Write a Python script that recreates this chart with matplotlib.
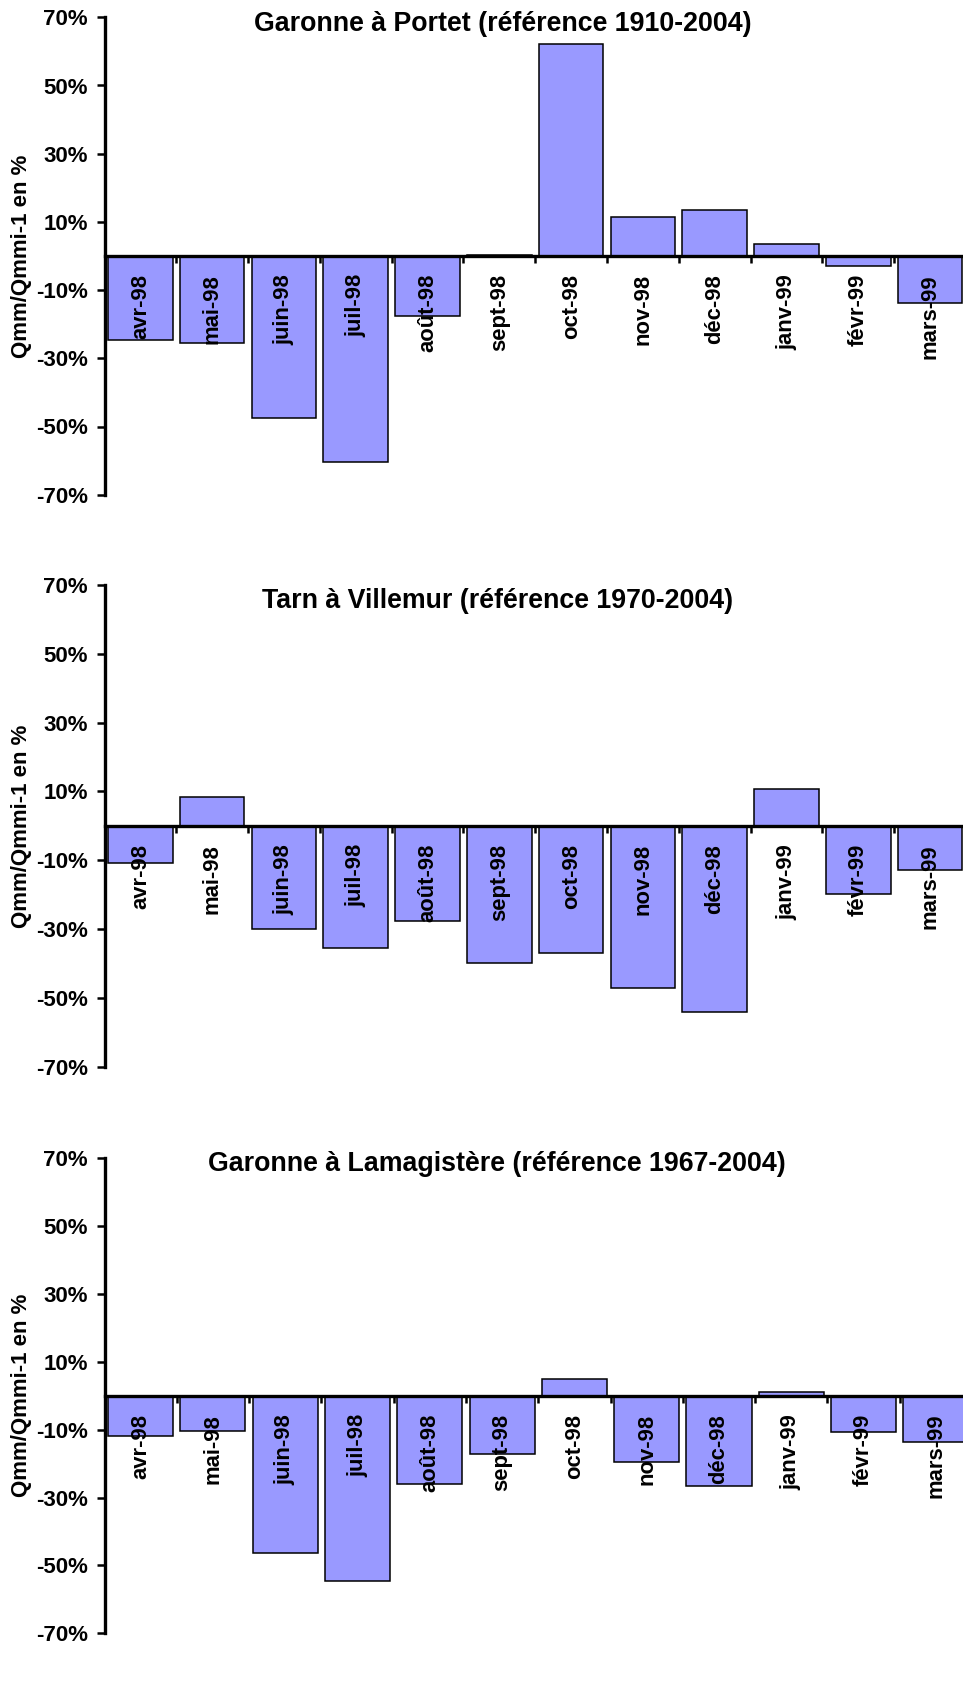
import matplotlib
matplotlib.use('Agg')
import matplotlib.pyplot as plt
from matplotlib.ticker import FixedLocator

plt.rcParams['font.family'] = ['Liberation Sans', 'DejaVu Sans']
plt.rcParams['font.weight'] = 'bold'

# monthly ratio Qmm/Qmmi-1 (%) for hydrological year 1998-99
months = ['avr-98', 'mai-98', 'juin-98', 'juil-98', 'août-98', 'sept-98',
          'oct-98', 'nov-98', 'déc-98', 'janv-99', 'févr-99', 'mars-99']
portet = [-24.5, -25.4, -47.6, -60.5, -17.5, 0.4, 62.3, 11.4, 13.5, 3.6, -2.8, -13.7]
villemur = [-10.9, 8.3, -30.0, -35.5, -27.6, -39.8, -36.9, -47.1, -54.1, 10.7, -19.7, -12.9]
lamagistere = [-11.8, -10.3, -46.2, -54.5, -26.0, -17.2, 4.9, -19.6, -26.5, 1.0, -10.8, -13.7]

titles = ['Garonne à Portet (référence 1910-2004)',
          'Tarn à Villemur (référence 1970-2004)',
          'Garonne à Lamagistère (référence 1967-2004)']
series = [portet, villemur, lamagistere]
yticks = [-70, -50, -30, -10, 10, 30, 50, 70]

W, H = 963, 1686
fig = plt.figure(figsize=(W / 100, H / 100), dpi=100)

# panel boxes in pixels: left, right, top(70%), bottom(-70%), title centre x, y
boxes = [(104.5, 966, 17.3, 494.7, 503, 24),
         (104.5, 966, 585, 1066.7, 498, 601),
         (104.5, 972, 1158.3, 1633.3, 497, 1164)]

for vals, title, (l, r, t, b, tx, ty) in zip(series, titles, boxes):
    ax = fig.add_axes([l / W, 1 - b / H, (r - l) / W, (b - t) / H])
    x = range(len(months))
    ax.bar(x, vals, width=0.9, color='#9999FF', edgecolor='black', linewidth=1.1)
    ax.set_xlim(-0.5, len(months) - 0.5)
    ax.set_ylim(-70, 70)

    for s in ['top', 'right']:
        ax.spines[s].set_visible(False)
    ax.spines['left'].set_linewidth(2.4)
    ax.spines['bottom'].set_linewidth(2.4)
    ax.spines['bottom'].set_position(('data', 0))

    ax.set_yticks(yticks)
    ax.set_yticklabels([f'{v}%' for v in yticks], fontsize=16, fontweight='bold')
    ax.tick_params(axis='y', direction='out', length=5.8, width=1.8, pad=6)

    ax.set_xticks(list(x))
    ax.set_xticklabels(months, rotation=90, fontsize=15.8, fontweight='bold')
    ax.tick_params(axis='x', which='major', length=0, pad=13)
    ax.xaxis.set_minor_locator(FixedLocator([i + 0.5 for i in range(len(months))]))
    ax.tick_params(axis='x', which='minor', direction='out', length=5, width=1.8)

    fig.text(tx / W, 1 - ty / H, title, ha='center', va='center',
             fontsize=19.3, fontweight='bold')
    fig.text(21.7 / W, 1 - (t + b) / 2 / H, 'Qmm/Qmmi-1 en %', rotation=90,
             ha='center', va='center', fontsize=16, fontweight='bold')

fig.savefig('out.png', dpi=100)
